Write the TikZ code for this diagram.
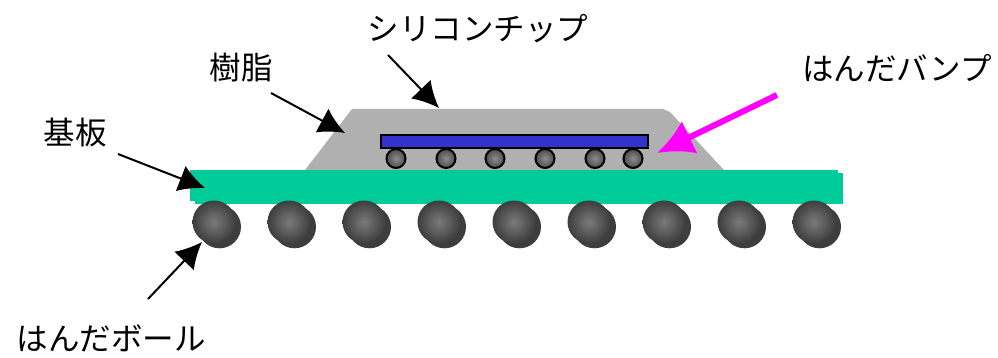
\documentclass[tikz,border=0pt]{standalone}
\usepackage{fontspec}
\newfontfamily\jpfont{Noto Sans CJK JP}
\usetikzlibrary{arrows.meta}
\tikzset{>={Latex[length=26pt,width=27pt]}}
\tikzset{
	label/.style={font=\jpfont\fontsize{31.5}{32}\selectfont, inner sep=0pt},
	pointer/.style={->, line width=2pt},
	ball/.style={draw=none, inner color=black!52, outer color=black!76},
	bump/.style={draw=black, line width=2pt, inner color=black!45, outer color=black!70},
}

\begin{document}
\begin{tikzpicture}[x=1pt,y=-1pt]
	\useasboundingbox (0,0) rectangle (998,358);
	% resin
	\path [fill=black!31] (305,170) -- (352,109) -- (663,109) -- (670,112) -- (724,170) -- cycle;
	% board
	\path [fill={rgb,255:red,0;green,204;blue,153}] (190,170) rectangle (838,201);
	\path [fill={rgb,255:red,0;green,204;blue,153}] (195,173) rectangle (843,204);
	% balls
	\foreach \x in {214,289,...,814} {
		\fill [black!76] (\x+5.5,226.8) circle [radius=21.5];
		\shade [ball] (\x,222) circle [radius=21.5];
	}
	% chip
	\draw [fill={rgb,255:red,51;green,51;blue,204}, line width=2pt] (380.5,135) rectangle (648,148.5);
	\foreach \x in {396,446,495,545,595,633}
		\shade [bump] (\x,158.5) circle [radius=9.5];
	% labels
	\node [label] (chiplabel) at (478,28.5) {シリコンチップ};
	\node [label] (resinlabel) at (241,67.5) {樹脂};
	\node [label] (bumplabel) at (897,68.5) {はんだバンプ};
	\node [label] (boardlabel) at (75,132.5) {基板};
	\node [label] (balllabel) at (111,338.5) {はんだボール};
	% arrows
	\coordinate (chipfrom) at (388,55);
	\coordinate (chipto) at (439,108);
	\coordinate (resinfrom) at (271,93);
	\coordinate (resinto) at (345,133);
	\coordinate (boardfrom) at (118,154);
	\coordinate (boardto) at (205,188);
	\coordinate (ballfrom) at (148,299);
	\coordinate (ballto) at (202,242);
	\coordinate (bumpfrom) at (777,95);
	\coordinate (bumpto) at (657,153);
	\draw [pointer] (chipfrom) -- (chipto);
	\draw [pointer] (resinfrom) -- (resinto);
	\draw [pointer] (boardfrom) -- (boardto);
	\draw [pointer] (ballfrom) -- (ballto);
	\draw [line width=6pt, -{Latex[length=36pt,width=36pt]}, color={rgb,255:red,255;green,0;blue,255}] (bumpfrom) -- (bumpto);
\end{tikzpicture}
\end{document}
